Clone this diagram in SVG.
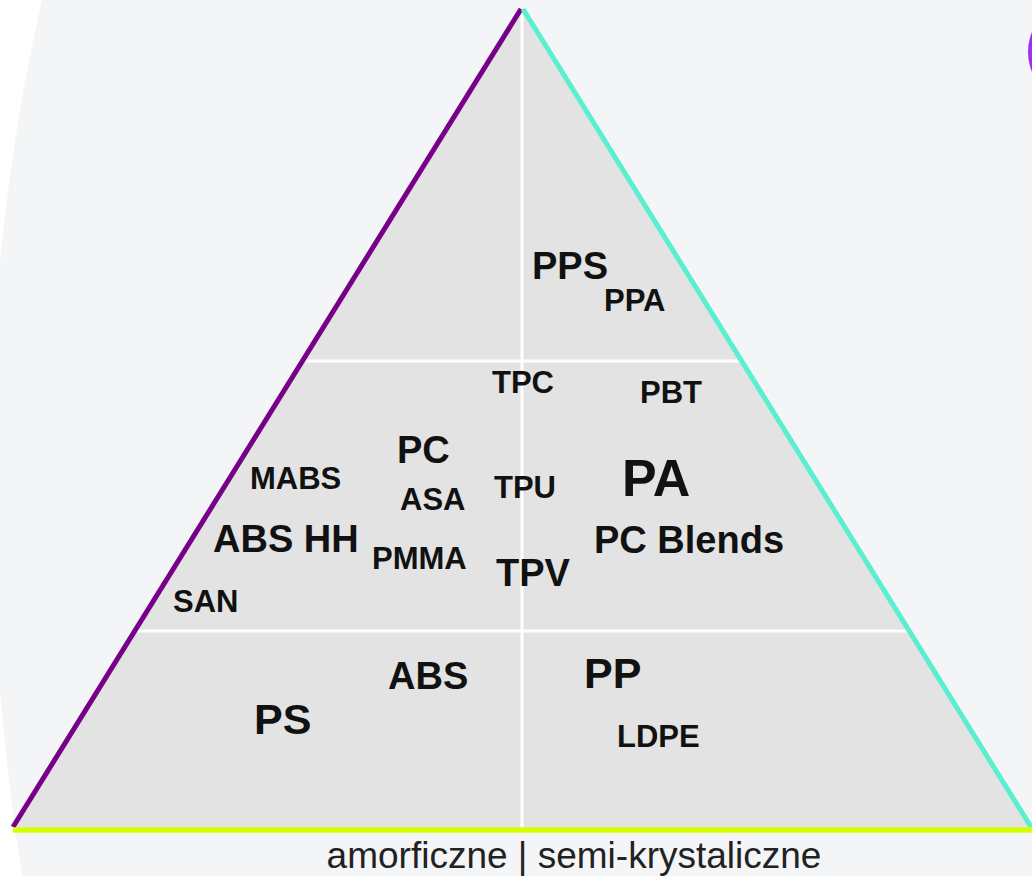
<svg xmlns="http://www.w3.org/2000/svg" width="1032" height="876" viewBox="0 0 1032 876">
  <style>
    .lbl { font-family: "Liberation Sans", Arial, sans-serif; font-weight: bold; fill: #111; }
    .s { font-size: 31px; }
    .m { font-size: 38px; }
    .l { font-size: 43px; }
    .div { stroke: #ffffff; stroke-width: 3; fill: none; }
  </style>
  <rect x="0" y="0" width="1032" height="876" fill="#ffffff"/>
  <path d="M42,0 Q-50,400 22,876 L1032,876 L1032,0 Z" fill="#f4f5f7"/>
  <ellipse cx="1052" cy="52" rx="24" ry="36" fill="#9b30f7"/>

  <g id="pyramid">
    <polygon points="522,8 13,828 1031,828" fill="#e2e3e2"/>
  </g>
  <g id="connectors">
    <line class="div" x1="522" y1="12" x2="522" y2="828"/>
    <line class="div" x1="305" y1="361" x2="741" y2="361"/>
    <line class="div" x1="136" y1="631" x2="908" y2="631"/>
    <line x1="521" y1="9" x2="13" y2="827" stroke="#770088" stroke-width="5"/>
    <line x1="523" y1="9" x2="1031" y2="827" stroke="#5af0cf" stroke-width="5"/>
    <line x1="13" y1="830" x2="1032" y2="830" stroke="#d4ff00" stroke-width="5.5"/>
  </g>

  <g id="n-pps"><text class="lbl m" x="532" y="279">PPS</text></g>
  <g id="n-ppa"><text class="lbl s" x="604" y="311">PPA</text></g>
  <g id="n-tpc"><text class="lbl s" x="492" y="393">TPC</text></g>
  <g id="n-pbt"><text class="lbl s" x="640" y="403">PBT</text></g>
  <g id="n-pc"><text class="lbl m" x="397" y="463">PC</text></g>
  <g id="n-mabs"><text class="lbl s" x="250" y="489">MABS</text></g>
  <g id="n-asa"><text class="lbl s" x="400" y="510">ASA</text></g>
  <g id="n-tpu"><text class="lbl s" x="494" y="498">TPU</text></g>
  <g id="n-pa"><text class="lbl" style="font-size:52px" x="622" y="496">PA</text></g>
  <g id="n-abshh"><text class="lbl m" x="213" y="552">ABS HH</text></g>
  <g id="n-pmma"><text class="lbl s" x="372" y="569">PMMA</text></g>
  <g id="n-tpv"><text class="lbl m" x="496" y="586">TPV</text></g>
  <g id="n-pcblends"><text class="lbl m" x="594" y="553">PC Blends</text></g>
  <g id="n-san"><text class="lbl s" x="173" y="612">SAN</text></g>
  <g id="n-abs"><text class="lbl m" x="388" y="689">ABS</text></g>
  <g id="n-pp"><text class="lbl l" x="584" y="688">PP</text></g>
  <g id="n-ps"><text class="lbl l" x="254" y="734">PS</text></g>
  <g id="n-ldpe"><text class="lbl s" x="617" y="747">LDPE</text></g>

  <g id="caption">
    <text x="574" y="868" text-anchor="middle" style="font-family:'Liberation Sans', Arial, sans-serif; font-size:37px; fill:#222;">amorficzne | semi-krystaliczne</text>
  </g>
</svg>
